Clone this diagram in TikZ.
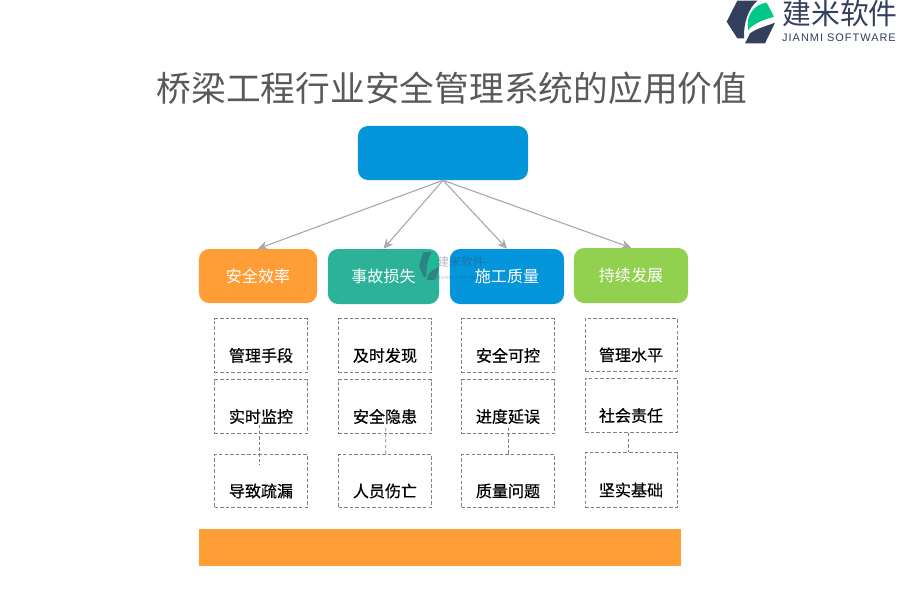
\documentclass[tikz,border=0pt]{standalone}
\usepackage{fontspec}
\setmainfont{Noto Sans CJK SC}
\newfontfamily\latinfont[LetterSpace=9]{Liberation Sans}
\newfontfamily\markfont[LetterSpace=9]{Liberation Sans Bold}
\newfontfamily\heavyfont[FakeBold=0.5]{Noto Sans CJK SC}
\usetikzlibrary{arrows.meta}
\definecolor{logodark}{HTML}{333F5C}
\definecolor{logogreen}{HTML}{00C987}
\definecolor{boxorange}{HTML}{FF9E37}
\definecolor{boxteal}{HTML}{2BB298}
\definecolor{boxblue}{HTML}{0595DA}
\definecolor{boxgreen}{HTML}{92D04F}
\definecolor{linegrey}{HTML}{A9A9A9}
\tikzset{
	roundbox/.style={rounded corners=0.25cm,inner sep=0pt,text=white,font=\fontsize{11.4pt}{12pt}\selectfont},
	dashbox/.style={draw=gray,line width=0.6pt,inner sep=0pt,dash pattern=on 2.5pt off 1.5pt},
	boxtext/.style={font=\fontsize{11.4pt}{12pt}\heavyfont,text=black,yshift=-0.25cm,inner sep=0pt},
	dashlink/.style={draw=gray,line width=0.6pt,dash pattern=on 2.5pt off 1.5pt},
	arrowlink/.style={draw=linegrey,line width=0.8pt,-{Stealth[length=0.24cm,width=0.23cm]}},
}
\newcommand{\jmlogo}{
	\fill[logodark] (112,2) -- (172,2) .. controls (145,25) and (130,70) .. (132,115) -- (112,115) -- (80,65) -- cycle;
	\fill[logodark] (135,130) -- (150,100) .. controls (170,85) and (200,78) .. (225,68) -- (195,130) -- cycle;
	\fill[logogreen] (145,90) .. controls (135,45) and (165,12) .. (200,8) -- (222,50) .. controls (190,60) and (160,70) .. (145,90) -- cycle;
}
\begin{document}
\begin{tikzpicture}[x=0.025cm,y=-0.025cm]
	\useasboundingbox (0,0) rectangle (900,600);
	\begin{scope}[shift={(700,0)},scale=0.3333]
		\jmlogo
	\end{scope}
	\node[text=logodark,font=\fontsize{20.5pt}{22pt}\selectfont,inner sep=0pt] (brand) at (840,14) {建米软件};
	\node[text=logodark,font=\fontsize{7.8pt}{9pt}\latinfont,inner sep=0pt] (brandsub) at (839,38) {JIANMI SOFTWARE};
	\node[text=gray!70!black,font=\fontsize{24.7pt}{28pt}\selectfont,inner sep=0pt] (title) at (452,88) {桥梁工程行业安全管理系统的应用价值};

	\node[roundbox,fill=boxblue,minimum width=4.25cm,minimum height=1.35cm] (top) at (443,153) {};
	\node[roundbox,fill=boxorange,minimum width=2.95cm,minimum height=1.35cm] (safe) at (258,276) {安全效率};
	\node[roundbox,fill=boxteal,minimum width=2.775cm,minimum height=1.375cm] (loss) at (383.5,276.5) {事故损失};
	\node[roundbox,fill=boxblue,minimum width=2.85cm,minimum height=1.375cm] (qual) at (507,276.5) {施工质量};
	\node[roundbox,fill=boxgreen,minimum width=2.85cm,minimum height=1.375cm] (grow) at (631,275.5) {持续发展};

	\draw[arrowlink] (top.south) -- (safe.north);
	\draw[arrowlink] (top.south) -- (loss.north);
	\draw[arrowlink] (top.south) -- (qual.north);
	\draw[arrowlink] (top.south) -- (grow.north);

	\node[dashbox,minimum width=2.32cm,minimum height=1.35cm,label={[boxtext]center:管理手段}] (a1) at (261,345.5) {};
	\node[dashbox,minimum width=2.32cm,minimum height=1.35cm,label={[boxtext]center:实时监控}] (a2) at (261,406.5) {};
	\node[dashbox,minimum width=2.32cm,minimum height=1.32cm,label={[boxtext]center:导致疏漏}] (a3) at (261,481) {};
	\node[dashbox,minimum width=2.32cm,minimum height=1.35cm,label={[boxtext]center:及时发现}] (b1) at (385,345.5) {};
	\node[dashbox,minimum width=2.32cm,minimum height=1.35cm,label={[boxtext]center:安全隐患}] (b2) at (385,406.5) {};
	\node[dashbox,minimum width=2.32cm,minimum height=1.32cm,label={[boxtext]center:人员伤亡}] (b3) at (385,481) {};
	\node[dashbox,minimum width=2.32cm,minimum height=1.35cm,label={[boxtext]center:安全可控}] (c1) at (508,345.5) {};
	\node[dashbox,minimum width=2.32cm,minimum height=1.35cm,label={[boxtext]center:进度延误}] (c2) at (508,406.5) {};
	\node[dashbox,minimum width=2.32cm,minimum height=1.32cm,label={[boxtext]center:质量问题}] (c3) at (508,481) {};
	\node[dashbox,minimum width=2.3cm,minimum height=1.32cm,label={[boxtext]center:管理水平}] (d1) at (631,345) {};
	\node[dashbox,minimum width=2.3cm,minimum height=1.35cm,label={[boxtext]center:社会责任}] (d2) at (631,405.5) {};
	\node[dashbox,minimum width=2.3cm,minimum height=1.37cm,label={[boxtext]center:坚实基础}] (d3) at (631,480) {};

	\draw[dashlink] ([shift={(-1.5,-9)}]a2.south) -- ([shift={(-1.5,11)}]a3.north);
	\draw[dashlink] ([shift={(0.7,-6)}]b2.south) -- ([xshift=0.018cm]b3.north);
	\draw[dashlink] ([yshift=0.15cm]c2.south) -- (c3.north);
	\draw[dashlink] ([xshift=-0.06cm]d2.south) -- ([xshift=-0.06cm]d3.north);

	\node[fill=boxorange,minimum width=12.05cm,minimum height=0.925cm,inner sep=0pt] (bar) at (440,547.5) {};

	\begin{scope}[shift={(407.8,251.6)},xscale=0.14,yscale=0.22,opacity=0.4]
		\jmlogo
	\end{scope}
	\node[text=logodark,opacity=0.35,font=\fontsize{8.4pt}{9pt}\selectfont,inner sep=0pt] (mark) at (461,262) {建米软件};
	\node[text=logodark,opacity=0.25,font=\fontsize{3.4pt}{4pt}\markfont,inner sep=0pt] (marksub) at (461,278) {JIANMI SOFTWARE};
\end{tikzpicture}
\end{document}
